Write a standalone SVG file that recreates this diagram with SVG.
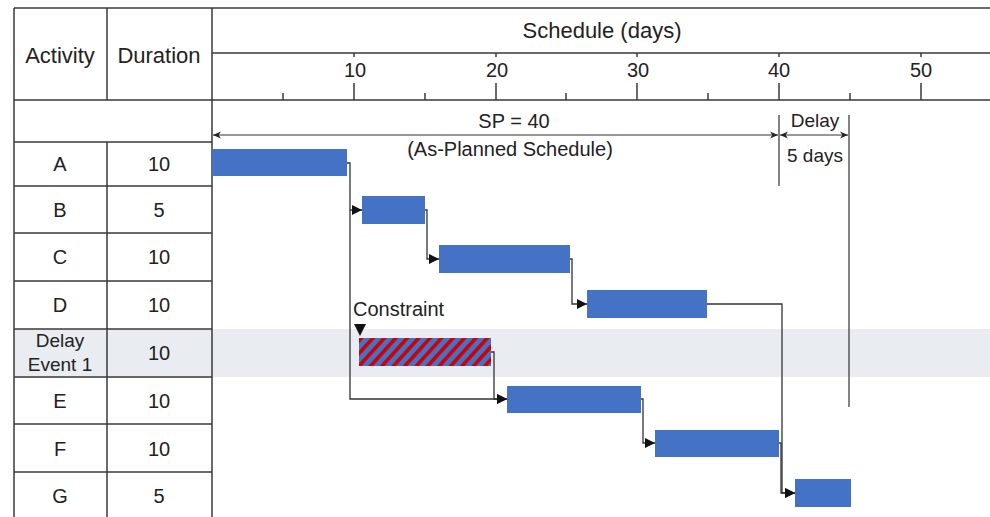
<svg xmlns="http://www.w3.org/2000/svg" width="990" height="517" viewBox="0 0 990 517">
<defs>
<style>
text{font-family:"Liberation Sans",Arial,sans-serif;fill:#222;text-anchor:middle}
.t22{font-size:22px}
.t21{font-size:21px}
.t20{font-size:20px}
.t19{font-size:19px}
.grid{stroke:#3a3a3a;stroke-width:1.5;fill:none}
.tick{stroke:#3a3a3a;stroke-width:1.5}
.bar{fill:#4472C4}
.conn{stroke:#333;stroke-width:1.3;fill:none}
.dim{stroke:#333;stroke-width:1.2;fill:none}
</style>
<marker id="ah" viewBox="0 0 10 10" refX="10" refY="5" markerWidth="11" markerHeight="10" markerUnits="userSpaceOnUse" orient="auto">
<path d="M0,0 L10,5 L0,10 z" fill="#111"/>
</marker>
<marker id="dh" viewBox="0 0 10 10" refX="10" refY="5" markerWidth="9" markerHeight="8" markerUnits="userSpaceOnUse" orient="auto-start-reverse">
<path d="M0,0.5 L10,5 L0,9.5 L3,5 z" fill="#222"/>
</marker>
<pattern id="hatch" patternUnits="userSpaceOnUse" width="8.5" height="8.5" patternTransform="rotate(42)">
<rect width="8.5" height="8.5" fill="#4472C4"/>
<rect width="3.6" height="8.5" fill="#D00000"/>
</pattern>
</defs>

<rect x="0" y="0" width="990" height="517" fill="#fff"/>

<!-- delay row shading -->
<rect x="14" y="329" width="976" height="48" fill="#E9ECF1"/>

<!-- table grid -->
<g id="table">
<path class="grid" d="M14,8 H990 M212,53 H990 M14,100 H990 M14,142 H212 M14,186 H212 M14,233 H212 M14,281 H212 M14,329 H212 M14,377 H212 M14,424 H212 M14,472 H212"/>
<path class="grid" d="M14,8 V517 M107,8 V100 M107,142 V517 M212,8 V517"/>
</g>

<!-- axis ticks -->
<g id="axis">
<path class="tick" d="M354,83 V100 M496,83 V100 M637,83 V100 M779,83 V100 M921,83 V100 M354,53 V57 M496,53 V57 M637,53 V57 M779,53 V57 M921,53 V57 M283,93 V100 M425,93 V100 M566,93 V100 M708,93 V100 M850,93 V100"/>
<text class="t20" x="355" y="77">10</text>
<text class="t20" x="497" y="77">20</text>
<text class="t20" x="638" y="77">30</text>
<text class="t20" x="779" y="77">40</text>
<text class="t20" x="921" y="77">50</text>
</g>

<!-- headers -->
<g id="headers">
<text class="t22" x="60" y="63">Activity</text>
<text class="t22" x="159" y="63">Duration</text>
<text class="t22" x="602" y="38">Schedule (days)</text>
</g>

<!-- row labels -->
<g id="row-A"><text class="t20" x="60" y="171">A</text><text class="t20" x="159" y="171">10</text></g>
<g id="row-B"><text class="t20" x="60" y="217">B</text><text class="t20" x="159" y="217">5</text></g>
<g id="row-C"><text class="t20" x="60" y="264">C</text><text class="t20" x="159" y="264">10</text></g>
<g id="row-D"><text class="t20" x="60" y="312">D</text><text class="t20" x="159" y="312">10</text></g>
<g id="row-Delay"><text class="t19" x="60" y="347">Delay</text><text class="t19" x="60" y="371">Event 1</text><text class="t20" x="159" y="360">10</text></g>
<g id="row-E"><text class="t20" x="60" y="408">E</text><text class="t20" x="159" y="408">10</text></g>
<g id="row-F"><text class="t20" x="60" y="456">F</text><text class="t20" x="159" y="456">10</text></g>
<g id="row-G"><text class="t20" x="60" y="503">G</text><text class="t20" x="159" y="503">5</text></g>

<!-- dimension annotations -->
<g id="sp-annotation">
<path class="dim" d="M213,135 H778" marker-start="url(#dh)" marker-end="url(#dh)"/>
<text class="t20" x="514" y="128">SP = 40</text>
<text class="t20" x="510" y="156">(As-Planned Schedule)</text>
</g>
<g id="delay-annotation">
<path class="dim" d="M779,115 V186 M849,115 V407"/>
<path class="dim" d="M780,135 H848" marker-start="url(#dh)" marker-end="url(#dh)"/>
<text class="t19" x="815" y="127">Delay</text>
<text class="t19" x="815" y="162">5 days</text>
</g>

<!-- connectors -->
<g id="connectors">
<path class="conn" d="M347,163 H350 V210 H362" marker-end="url(#ah)"/>
<path class="conn" d="M350,210 V399 H507" marker-end="url(#ah)"/>
<path class="conn" d="M425,210 H427 V259 H439" marker-end="url(#ah)"/>
<path class="conn" d="M570,259 H572 V304 H587" marker-end="url(#ah)"/>
<path class="conn" d="M707,304 H782 V493 H795" marker-end="url(#ah)"/>
<path class="conn" d="M491,352 H494 V399 H507" marker-end="url(#ah)"/>
<path class="conn" d="M641,399 H643 V443 H655" marker-end="url(#ah)"/>
<path class="conn" d="M779,443 H781 V493 H795" marker-end="url(#ah)"/>
</g>

<!-- bars -->
<g id="bar-A"><rect class="bar" x="212" y="149" width="135" height="27"/></g>
<g id="bar-B"><rect class="bar" x="362" y="196" width="63" height="28"/></g>
<g id="bar-C"><rect class="bar" x="439" y="245" width="131" height="28"/></g>
<g id="bar-D"><rect class="bar" x="587" y="290" width="120" height="28"/></g>
<g id="bar-Delay"><rect x="359" y="338" width="132" height="28" fill="url(#hatch)"/></g>
<g id="bar-E"><rect class="bar" x="507" y="386" width="134" height="27"/></g>
<g id="bar-F"><rect class="bar" x="655" y="430" width="124" height="27"/></g>
<g id="bar-G"><rect class="bar" x="795" y="479" width="56" height="28"/></g>

<!-- constraint -->
<g id="constraint">
<text class="t20" x="353" y="316" style="text-anchor:start">Constraint</text>
<polygon points="354,324 366,324 360,336" fill="#111"/>
</g>
</svg>
